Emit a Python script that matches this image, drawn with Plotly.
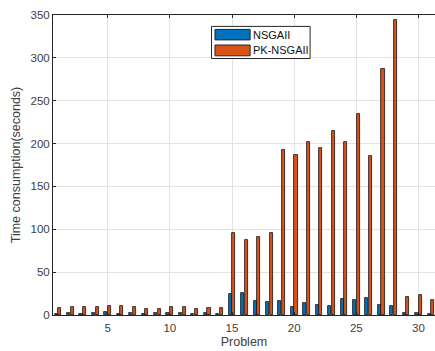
import plotly.graph_objects as go

problems = list(range(1, 32))
series_names = ["NSGAII", "PK-NSGAII"]
nsgaii = [1, 2, 1.5, 2, 3, 1.5, 2.5, 1.5, 2, 2, 2.5, 1.5, 2, 1,
          24, 25.5, 16.5, 15.5, 16.5, 9.5, 14.5, 11.5, 10.5, 19, 18, 20, 11.5, 10.5,
          2, 2, 1.2]
pk_nsgaii = [8.5, 9.5, 9.5, 9, 10.5, 10, 9, 7.5, 7.5, 9.5, 9.5, 7.5, 8.5, 8.5,
             96, 87.5, 90.5, 96, 193, 187, 202, 195, 215, 202, 235, 186, 287, 344,
             21, 23, 17.5]
x_ticks = [5, 10, 15, 20, 25, 30]
y_ticks = [0, 50, 100, 150, 200, 250, 300, 350]

colors = ["#0072BD", "#D95319"]
FONT = "Liberation Sans, Arial, sans-serif"
TXT = "#404040"

fig = go.Figure()
fig.add_trace(go.Bar(x=problems, y=nsgaii, name=series_names[0], width=0.25, offset=-0.27,
                     marker=dict(color=colors[0], line=dict(color="#111111", width=0.8))))
fig.add_trace(go.Bar(x=problems, y=pk_nsgaii, name=series_names[1], width=0.25, offset=0.02,
                     marker=dict(color=colors[1], line=dict(color="#111111", width=0.8))))

# custom MATLAB-style legend
lx0, lx1, ly0, ly1 = 0.415, 0.673, 0.855, 0.962
fig.add_shape(type="rect", xref="paper", yref="paper", x0=lx0, x1=lx1, y0=ly0, y1=ly1,
              line=dict(color="#262626", width=1), fillcolor="white", layer="above")
sw = [(0.917, 0.952, 0.934), (0.864, 0.900, 0.882)]
for (y0, y1, yc), name, c in zip(sw, series_names, colors):
    fig.add_shape(type="rect", xref="paper", yref="paper", x0=0.424, x1=0.516, y0=y0, y1=y1,
                  line=dict(color="#262626", width=1), fillcolor=c, layer="above")
    fig.add_annotation(xref="paper", yref="paper", x=0.519, y=yc, text=name, showarrow=False,
                       xanchor="left", yanchor="middle", font=dict(family=FONT, size=11, color="#111111"))

axis_common = dict(showgrid=True, gridcolor="#e3e3e3", gridwidth=1, showline=True,
                   linecolor="#262626", linewidth=1, ticks="inside", ticklen=3,
                   tickcolor="#262626", tickfont=dict(family=FONT, size=11.5, color=TXT),
                   zeroline=False)
fig.update_layout(
    width=435, height=351, margin=dict(l=53, r=0, t=15, b=36),
    paper_bgcolor="white", plot_bgcolor="white", showlegend=False, bargap=0,
    font=dict(family=FONT, size=11, color=TXT),
    xaxis=dict(range=[0.6, 31.33], tickvals=x_ticks, mirror="ticks", ticklabelstandoff=2,
               title=dict(text="Problem", font=dict(family=FONT, size=12.5, color=TXT), standoff=4),
               **axis_common),
    yaxis=dict(range=[0, 350], tickvals=y_ticks, mirror=False,
               title=dict(text="Time consumption(seconds)", font=dict(family=FONT, size=12.5, color=TXT), standoff=7),
               **axis_common),
)
fig.write_html("out.html", config={"displayModeBar": False},
               post_script="document.body.style.margin='0';document.body.style.overflow='hidden';")
